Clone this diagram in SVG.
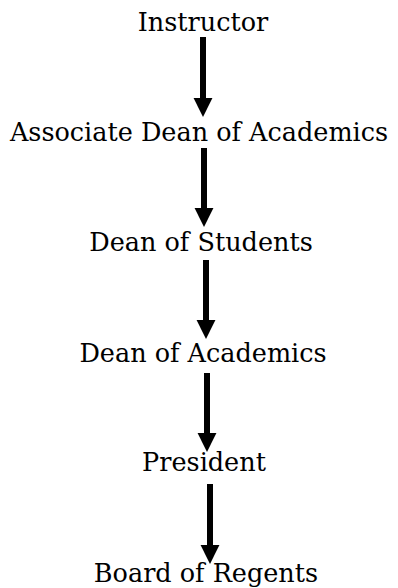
<svg xmlns="http://www.w3.org/2000/svg" width="398" height="588" viewBox="0 0 398 588">
<style>
.c{stroke:#000;stroke-width:6;fill:none}
.t{font-family:"DejaVu Serif","Liberation Serif",serif;font-size:25.5px;fill:#000;text-anchor:middle}
</style>
<defs>
<marker id="ah" markerUnits="userSpaceOnUse" markerWidth="20" markerHeight="20" viewBox="0 0 18 17" refX="0" refY="8.5" orient="auto">
<path d="M0,0 L17,8.5 L0,17 z" fill="#000"/>
</marker>
</defs>
<rect width="398" height="588" fill="#fff"/>
<g id="connectors">
<line class="c" x1="203" y1="37" x2="203" y2="98" marker-end="url(#ah)"/>
<line class="c" x1="204" y1="148" x2="204" y2="208" marker-end="url(#ah)"/>
<line class="c" x1="206" y1="260" x2="206" y2="320" marker-end="url(#ah)"/>
<line class="c" x1="207" y1="373" x2="207" y2="433" marker-end="url(#ah)"/>
<line class="c" x1="210" y1="484" x2="210" y2="545" marker-end="url(#ah)"/>
</g>
<g id="instructor"><text class="t" x="203" y="31">Instructor</text></g>
<g id="assoc-dean"><text class="t" x="199" y="141">Associate Dean of Academics</text></g>
<g id="dean-students"><text class="t" x="201" y="251">Dean of Students</text></g>
<g id="dean-academics"><text class="t" x="203" y="362">Dean of Academics</text></g>
<g id="president"><text class="t" x="204" y="471">President</text></g>
<g id="board"><text class="t" x="206" y="582">Board of Regents</text></g>
</svg>
